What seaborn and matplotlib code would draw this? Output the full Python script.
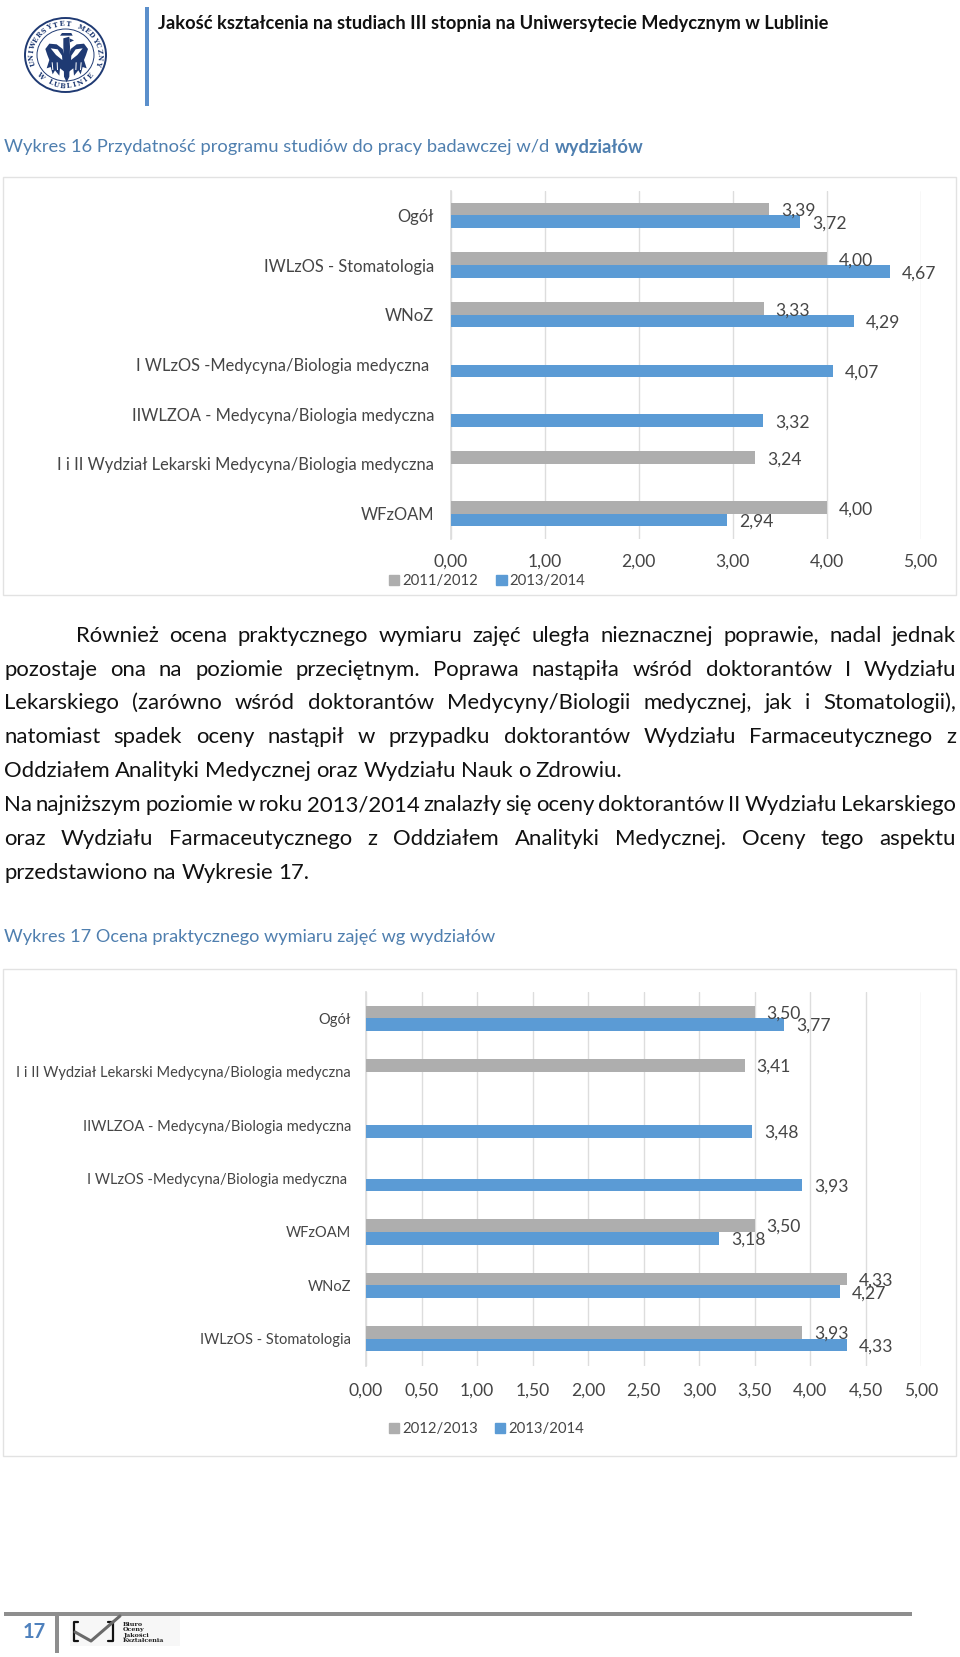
import numpy as np
import pandas as pd
import matplotlib
matplotlib.use("Agg")
import matplotlib.pyplot as plt
from matplotlib.patches import Rectangle, Ellipse, Polygon
from matplotlib.lines import Line2D
import seaborn as sns

# ---------- data ----------
cats_16 = ["Ogół", "IWLzOS - Stomatologia", "WNoZ", "I WLzOS -Medycyna/Biologia medyczna ",
           "IIWLZOA - Medycyna/Biologia medyczna", "I i II Wydział Lekarski Medycyna/Biologia medyczna", "WFzOAM"]
vals_16_a = [3.39, 4.00, 3.33, np.nan, np.nan, 3.24, 4.00]
vals_16_b = [3.72, 4.67, 4.29, 4.07, 3.32, np.nan, 2.94]
years_16 = ["2011/2012", "2013/2014"]
ticks_16 = [0, 1, 2, 3, 4, 5]

cats_17 = ["Ogół", "I i II Wydział Lekarski Medycyna/Biologia medyczna", "IIWLZOA - Medycyna/Biologia medyczna",
           "I WLzOS -Medycyna/Biologia medyczna ", "WFzOAM", "WNoZ", "IWLzOS - Stomatologia"]
vals_17_a = [3.50, 3.41, np.nan, np.nan, 3.50, 4.33, 3.93]
vals_17_b = [3.77, np.nan, 3.48, 3.93, 3.18, 4.27, 4.33]
years_17 = ["2012/2013", "2013/2014"]
ticks_17 = [0, .5, 1, 1.5, 2, 2.5, 3, 3.5, 4, 4.5, 5]

header = "Jakość kształcenia na studiach III stopnia na Uniwersytecie Medycznym w Lublinie"
title_16 = "Wykres 16 Przydatność programu studiów do pracy badawczej w/d "
title_16_bold = "wydziałów"
title_17 = "Wykres 17 Ocena praktycznego wymiaru zajęć wg wydziałów"
page_no = "17"
bureau = ["Biuro", "Oceny", "Jakości", "Kształcenia"]
para = [
    (76, True, "Również ocena praktycznego wymiaru zajęć uległa nieznacznej poprawie, nadal jednak"),
    (4, True, "pozostaje ona na poziomie przeciętnym. Poprawa nastąpiła wśród doktorantów I Wydziału"),
    (4, True, "Lekarskiego (zarówno wśród doktorantów Medycyny/Biologii medycznej, jak i Stomatologii),"),
    (4, True, "natomiast spadek oceny nastąpił w przypadku doktorantów Wydziału Farmaceutycznego z"),
    (4, False, "Oddziałem Analityki Medycznej oraz Wydziału Nauk o Zdrowiu."),
    (4, True, "Na najniższym poziomie w roku 2013/2014 znalazły się oceny doktorantów II Wydziału Lekarskiego"),
    (4, True, "oraz Wydziału Farmaceutycznego z Oddziałem Analityki Medycznej. Oceny tego aspektu"),
    (4, False, "przedstawiono na Wykresie 17."),
]
para_y = [636, 670, 703, 737, 771, 805, 839, 873]

# ---------- style ----------
sns.set_theme(style="white")
plt.rcParams["font.family"] = ["Lato", "DejaVu Sans"]
GREY, BLUE, GRID, TXT = "#AEAEAE", "#5B9BD5", "#DDDDDD", "#454545"
W, H = 960, 1657
fig = plt.figure(figsize=(W / 100, H / 100), dpi=100, facecolor="white")
bg = fig.add_axes([0, 0, 1, 1], zorder=0)
bg.set_xlim(0, W); bg.set_ylim(H, 0); bg.axis("off")
rend = fig.canvas.get_renderer()


def width_of(s, size, **kw):
    t = bg.text(0, 0, s, fontsize=size, **kw)
    w = t.get_window_extent(rend).width
    t.remove()
    return w


def comma(v):
    return f"{v:.2f}".replace(".", ",")


def chart(cats, a, b, years, ticks, x0, x1, y0, y1, bar_w, pad, lab_pad, lab_drop, xpad, ysize, leg_x, leg_y, col_gap):
    ax = fig.add_axes([x0 / W, 1 - y1 / H, (x1 - x0) / W, (y1 - y0) / H], zorder=2)
    ax.patch.set_alpha(0)
    df = pd.DataFrame({"cat": cats * 2, "value": list(a) + list(b),
                       "year": [years[0]] * len(cats) + [years[1]] * len(cats)})
    sns.barplot(data=df, y="cat", x="value", hue="year", order=cats, hue_order=years,
                palette=[GREY, BLUE], width=bar_w, saturation=1, gap=0, errorbar=None,
                ax=ax, zorder=3, legend=False, linewidth=0)
    ax.set_xlim(0, 5)
    ax.set_xlabel(""); ax.set_ylabel("")
    ax.set_xticks(ticks, [comma(t) for t in ticks])
    ax.grid(axis="x", color=GRID, lw=1)
    ax.set_axisbelow(True)
    for s in ["top", "right", "bottom"]:
        ax.spines[s].set_visible(False)
    ax.spines["left"].set_color(GRID)
    ax.tick_params(axis="both", length=0, labelcolor=TXT)
    ax.tick_params(axis="y", pad=pad * 0.72, labelsize=ysize)
    ax.tick_params(axis="x", pad=xpad * 0.72, labelsize=12.6)
    for c in ax.containers:
        for t in ax.bar_label(c, fmt=comma, padding=lab_pad * 0.72, fontsize=12.6, color=TXT):
            t.xyann = (t.xyann[0], -lab_drop * 0.72)
    handles = [Rectangle((0, 0), 1, 1, color=GREY), Rectangle((0, 0), 1, 1, color=BLUE)]
    ax.legend(handles, years, loc="center left", bbox_to_anchor=(leg_x / W, 1 - leg_y / H),
              bbox_transform=fig.transFigure, ncol=2, frameon=False, fontsize=10.7,
              labelcolor=TXT, handlelength=0.68, handleheight=0.68, handletextpad=0.2,
              columnspacing=col_gap, borderpad=0, borderaxespad=0)
    return ax


# ---------- page furniture ----------
bg.add_patch(Rectangle((144.5, 7), 4, 99, color="#5B8FCB", lw=0))
bg.text(158, 23, header, fontsize=13.13, fontweight="bold", color="#111111", va="center")
ts = 13.25
bg.text(4, 147, title_16, fontsize=ts, color="#4F7FAF", va="center")
bg.text(4 + width_of(title_16, ts) + 1, 147, title_16_bold, fontsize=ts, fontweight="bold", color="#4F7FAF", va="center")
bg.text(4, 937, title_17, fontsize=13.1, color="#4F7FAF", va="center")

# body size: the tightest justified line just fills the text width with narrow spaces
longest = para[5][2]
n_sp = longest.count(" ")
w14 = sum(width_of(w, 14) for w in longest.split(" "))
bs = 14 * 952 / (w14 + n_sp * 14 * (100 / 72) * 0.17)
for (x, just, line), y in zip(para, para_y):
    words = line.split(" ")
    ws = [width_of(w, bs) for w in words]
    space = (width_of("a a", bs) - width_of("aa", bs)) * 0.95
    if just:
        space = (956 - x - sum(ws)) / (len(words) - 1)
    cx = x
    for w, wd in zip(words, ws):
        bg.text(cx, y + 6, w, fontsize=bs, color="#111111", va="baseline")
        cx += wd + space

for (bx0, by0, bx1, by1) in [(3, 177, 956, 595), (3, 969, 956, 1456)]:
    bg.add_patch(Rectangle((bx0, by0), bx1 - bx0, by1 - by0, fc="white", ec="#E2E2E2", lw=1))

# ---------- university seal ----------
NAVY = "#1F3A73"
cx_l, cy_l = 65.5, 55
bg.add_patch(Ellipse((cx_l, cy_l), 81, 74, fc="white", ec=NAVY, lw=1.4))
bg.add_patch(Ellipse((cx_l, cy_l), 57, 52, fc="white", ec=NAVY, lw=0.7))


def arc_text(s, a0, a1, r_x, r_y, flip=False):
    for ch, ang in zip(s, np.linspace(a0, a1, len(s))):
        rad = np.deg2rad(ang)
        px, py = cx_l + r_x * np.cos(rad), cy_l - r_y * np.sin(rad)
        rot = ang - 90 if not flip else ang + 90
        bg.text(px, py, ch, fontsize=4.8, fontweight="bold", family="DejaVu Serif", color=NAVY,
                ha="center", va="center", rotation=rot)


arc_text("UNIWERSYTET MEDYCZNY", 195, -15, 34, 31)
arc_text("W LUBLINIE", 222, 318, 34, 31, flip=True)


def z(pts, mirror=False):
    out = []
    for x, y in pts:
        if mirror:
            x = 340 - x
        out.append((10 + x / 3, 5 + y / 3))
    return out


wing = [(106, 132), (118, 116), (140, 118), (158, 132), (163, 150), (163, 200), (150, 190), (148, 212),
        (135, 196), (128, 208), (122, 186), (110, 190), (118, 165), (112, 150)]
for m in (False, True):
    bg.add_patch(Polygon(z(wing, m), color=NAVY, lw=0))
    bg.add_patch(Polygon(z([(122, 130), (143, 133), (156, 152), (157, 165), (138, 150)], m), color="white", lw=0))
    bg.add_patch(Polygon(z([(125, 172), (128, 172), (130, 195), (127, 195)], m), color="white", lw=0))
    bg.add_patch(Polygon(z([(140, 172), (143, 172), (144, 195), (141, 195)], m), color="white", lw=0))
bg.add_patch(Polygon(z([(160, 100), (178, 95), (180, 125), (178, 215), (170, 232), (162, 215), (160, 120)]), color=NAVY, lw=0))
bg.add_patch(Polygon(z([(150, 92), (188, 92), (184, 84), (156, 84)]), color=NAVY, lw=0))
bg.add_patch(Polygon(z([(178, 100), (192, 106), (180, 112)]), color=NAVY, lw=0))

# ---------- footer ----------
bg.add_patch(Rectangle((4, 1612), 908, 3.5, color="#8E8E8E", lw=0))
bg.add_patch(Rectangle((55, 1612), 3.5, 41, color="#8E8E8E", lw=0))
bg.text(34, 1632, page_no, fontsize=14.5, fontweight="bold", color="#4F81BD", ha="center", va="center")
bg.add_patch(Rectangle((70, 1616), 110, 30, color="#F7F7F7", lw=0))
bg.add_line(Line2D([78, 73.5, 73.5, 78], [1622, 1622, 1641, 1641], color="#111111", lw=1.6))
bg.add_line(Line2D([108, 113, 113, 108], [1622, 1622, 1641, 1641], color="#111111", lw=1.6))
bg.add_line(Line2D([75, 91, 120], [1632, 1641, 1616], color="#6A6A6A", lw=2.2))
for s, y in zip(bureau, [1624, 1630, 1635.5, 1641]):
    bg.text(123, y, s, fontsize=4.6, fontweight="bold", family="DejaVu Serif", color="#222222", va="center")

# ---------- charts ----------
chart(cats_16, vals_16_a, vals_16_b, years_16, ticks_16, 451, 920.5, 190.5, 538.5, 0.51, 17, 12, 2, 15, 11.9, 389, 581, 1.25)
chart(cats_17, vals_17_a, vals_17_b, years_17, ticks_17, 366, 921, 991.5, 1365.5, 0.474, 15, 12, 1.5, 17, 10.5, 389, 1429, 1.15)

fig.savefig("out.png", dpi=100, facecolor="white")
